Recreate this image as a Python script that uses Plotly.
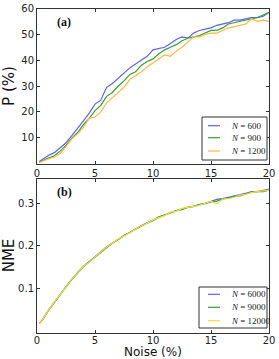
import plotly.graph_objects as go

noise = [0.2, 0.5, 1.0, 1.5, 2.0, 2.5, 3.0, 3.5, 4.0, 4.5, 5.0, 5.5, 6.0, 6.5, 7.0, 7.5, 8.0, 8.5, 9.0, 9.5,
         10.0, 10.5, 11.0, 11.5, 12.0, 12.5, 13.0, 13.5, 14.0, 14.5, 15.0, 15.5, 16.0, 16.5, 17.0, 17.5,
         18.0, 18.5, 19.0, 19.5, 20.0]

p_600 = [0.8, 1.8, 3.2, 4.2, 6.0, 8.0, 10.8, 13.5, 16.5, 19.5, 23.0, 24.5, 29.5, 31.0, 33.0, 35.0, 37.0, 38.5, 40.0, 41.5,
         44.0, 44.5, 45.0, 46.5, 48.0, 49.0, 48.5, 50.5, 51.5, 52.0, 52.5, 53.5, 54.0, 54.5, 55.5, 55.5,
         56.0, 56.5, 56.5, 57.0, 58.5]
p_900 = [0.5, 1.2, 2.2, 3.0, 4.8, 7.0, 9.8, 12.0, 15.0, 17.5, 20.5, 22.5, 26.0, 27.5, 30.0, 32.0, 34.5, 35.5, 38.0, 39.5,
         40.5, 42.5, 44.0, 45.0, 46.0, 47.5, 48.5, 49.0, 49.5, 50.5, 51.5, 51.5, 52.5, 54.0, 54.5, 55.0,
         55.5, 56.0, 56.5, 57.5, 58.5]
p_1200 = [0.4, 1.0, 1.8, 2.5, 4.0, 6.5, 9.5, 11.5, 14.0, 17.5, 18.0, 20.0, 23.5, 25.5, 27.5, 29.5, 32.5, 34.0, 35.5, 37.5,
          39.0, 40.5, 42.0, 41.5, 43.5, 45.0, 47.0, 49.0, 49.0, 50.0, 50.5, 50.5, 51.5, 52.5, 53.0, 53.5,
          54.0, 56.0, 55.0, 55.5, 55.0]

nme_6000 = [0.018, 0.028, 0.050, 0.068, 0.088, 0.105, 0.122, 0.138, 0.152, 0.163, 0.175, 0.187, 0.198, 0.207, 0.216,
            0.224, 0.232, 0.239, 0.248, 0.254, 0.259, 0.267, 0.273, 0.278, 0.282, 0.287, 0.290, 0.294, 0.297,
            0.300, 0.304, 0.309, 0.311, 0.314, 0.316, 0.320, 0.323, 0.327, 0.327, 0.330, 0.333]
nme_9000 = [0.018, 0.028, 0.049, 0.068, 0.086, 0.104, 0.121, 0.137, 0.151, 0.163, 0.174, 0.186, 0.196, 0.206, 0.215,
            0.225, 0.231, 0.240, 0.246, 0.253, 0.260, 0.268, 0.272, 0.277, 0.283, 0.285, 0.291, 0.292, 0.297,
            0.299, 0.303, 0.305, 0.310, 0.312, 0.316, 0.317, 0.322, 0.326, 0.328, 0.327, 0.331]
nme_12000 = [0.017, 0.028, 0.050, 0.068, 0.087, 0.104, 0.122, 0.137, 0.152, 0.162, 0.175, 0.186, 0.197, 0.207, 0.216,
             0.223, 0.232, 0.239, 0.247, 0.253, 0.261, 0.266, 0.271, 0.279, 0.281, 0.288, 0.290, 0.293, 0.295,
             0.300, 0.305, 0.298, 0.310, 0.311, 0.314, 0.319, 0.321, 0.325, 0.328, 0.329, 0.331]

labels_a = ["600", "900", "1200"]
labels_b = ["6000", "9000", "12000"]

x_ticks = [0, 5, 10, 15, 20]
p_ticks = [10, 20, 30, 40, 50, 60]
nme_ticks = [0.1, 0.2, 0.3]

BLUE = "rgb(95,95,250)"
GREEN = "rgb(50,160,50)"
ORANGE = "rgb(255,185,60)"
YELLOW = "rgb(245,222,50)"
colors_a = [BLUE, GREEN, ORANGE]
colors_b = [BLUE, GREEN, YELLOW]

fig = go.Figure()
for y, name, c in zip([p_600, p_900, p_1200], labels_a, colors_a):
    fig.add_trace(go.Scatter(x=noise, y=y, mode="lines", line=dict(color=c, width=1.2),
                             name="<i>N</i> = " + name, xaxis="x", yaxis="y"))
for y, name, c in zip([nme_6000, nme_9000, nme_12000], labels_b, colors_b):
    fig.add_trace(go.Scatter(x=noise, y=y, mode="lines", line=dict(color=c, width=1.2),
                             name="<i>N</i> = " + name, xaxis="x2", yaxis="y2"))

W, H = 279, 359


def px(xp):
    return xp / W


def py(yp):
    return 1 - yp / H


xd = [px(37), px(269)]
tickfont = dict(family="DejaVu Sans", size=10, color="#222")
ax_common = dict(showline=True, linecolor="#333", linewidth=1, mirror="ticks", ticks="inside",
                 ticklen=3, tickcolor="#333", showgrid=False, zeroline=False, tickfont=tickfont,
                 automargin=False)

# manual legends (shapes + text)
shapes = []
annotations = []
legfont = dict(family="Liberation Serif", size=9, color="#222")
for box, rows, labels, cols in [((202, 117, 267, 160), [125.7, 137.7, 151], labels_a, colors_a),
                                ((199, 287, 267, 328), [294.3, 307.3, 320.7], labels_b, colors_b)]:
    x0, y0, x1, y1 = box
    shapes.append(dict(type="rect", xref="paper", yref="paper", x0=px(x0), x1=px(x1), y0=py(y1), y1=py(y0),
                       line=dict(color="#333", width=1), fillcolor="white", layer="above"))
    for r, lab, c in zip(rows, labels, cols):
        shapes.append(dict(type="line", xref="paper", yref="paper", x0=px(208), x1=px(220), y0=py(r), y1=py(r),
                           line=dict(color=c, width=1.2), layer="above"))
        annotations.append(dict(text="<i>N</i> = " + lab, xref="paper", yref="paper", x=px(229), y=py(r),
                                xanchor="left", yanchor="middle", showarrow=False, font=legfont))

annotations += [
    dict(text="<b>(a)</b>", x=1.55, y=54.7, xref="x", yref="y", xanchor="left", yanchor="middle",
         showarrow=False, font=dict(family="Liberation Serif", size=12, color="#111")),
    dict(text="<b>(b)</b>", x=1.55, y=0.326, xref="x2", yref="y2", xanchor="left", yanchor="middle",
         showarrow=False, font=dict(family="Liberation Serif", size=12, color="#111")),
    dict(text="Noise (%)", x=px(153), y=py(352), xref="paper", yref="paper", xanchor="center",
         yanchor="middle", showarrow=False, font=dict(family="DejaVu Sans", size=12, color="#111")),
]

fig.update_layout(
    width=W, height=H, margin=dict(l=0, r=0, t=0, b=0),
    plot_bgcolor="white", paper_bgcolor="white", showlegend=False,
    xaxis=dict(domain=xd, anchor="y", range=[0, 20], tickvals=x_ticks, **ax_common),
    yaxis=dict(domain=[py(163.5), py(8.5)], anchor="x", range=[0, 60], tickvals=p_ticks,
               title=dict(text="P (%)", font=dict(family="DejaVu Sans", size=15, color="#111"), standoff=6),
               **ax_common),
    xaxis2=dict(domain=xd, anchor="y2", range=[0, 20], tickvals=x_ticks, ticklabelstandoff=-2, **ax_common),
    yaxis2=dict(domain=[py(332.5), py(178.5)], anchor="x2", range=[-0.003, 0.358], tickvals=nme_ticks,
                title=dict(text="NME", font=dict(family="DejaVu Sans", size=15, color="#111"), standoff=6),
                **ax_common),
    shapes=shapes,
    annotations=annotations,
)

fig.write_html("out.html", config={"displayModeBar": False},
               post_script="document.body.style.margin='0px';document.body.style.overflow='hidden';")
